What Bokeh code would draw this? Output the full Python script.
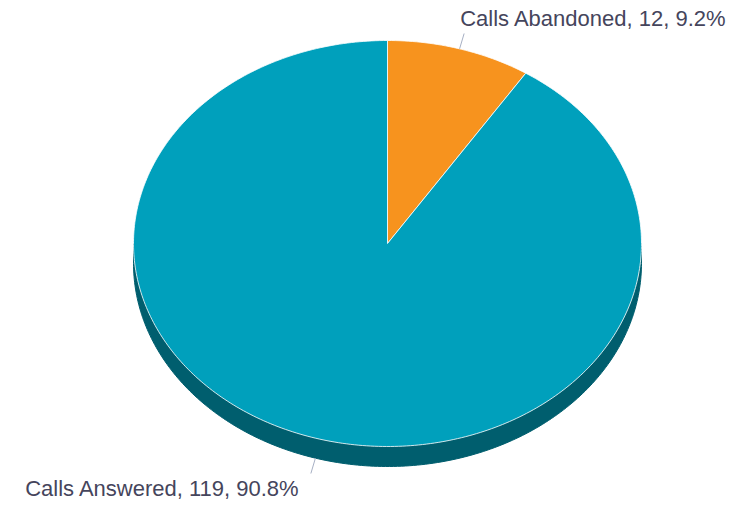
import numpy as np
from bokeh.plotting import figure
from bokeh.models import Range1d, ColumnDataSource
from bokeh.core.properties import value
from bokeh.embed import file_html
from bokeh.resources import INLINE

# ---- data ----
labels = ["Calls Abandoned", "Calls Answered"]
values = [12, 119]
colors = ["#f7931e", "#00a0bc"]
side_color = "#005e6e"

# ---- geometry (screen-like coords) ----
cx, cy = 387.0, 243.0
rx, ry = 254.0, 203.0
depth = 20.0

W, H = 735, 505
p = figure(width=W, height=H, output_backend="svg", toolbar_location=None,
           x_range=Range1d(0, W), y_range=Range1d(H, 0),
           min_border=0, outline_line_color=None)
p.axis.visible = False
p.grid.visible = False
p.background_fill_color = "white"

total = float(sum(values))
fracs = [v / total for v in values]

# side band (front half of the cylinder)
t = np.linspace(np.pi / 2, 3 * np.pi / 2, 200)  # angle clockwise from top
ex = cx + rx * np.sin(t)
ey = cy - ry * np.cos(t)
side_x = np.concatenate([ex, ex[::-1]])
side_y = np.concatenate([ey, ey[::-1] + depth])
p.patch(side_x, side_y, fill_color=side_color, line_color=side_color, line_width=1)

# top slices
xs, ys = [], []
start = 0.0
mids = []
for f in fracs:
    end = start + f * 2 * np.pi
    a = np.linspace(start, end, max(int(f * 400), 10))
    px = np.concatenate([[cx], cx + rx * np.sin(a), [cx]])
    py = np.concatenate([[cy], cy - ry * np.cos(a), [cy]])
    xs.append(px.tolist())
    ys.append(py.tolist())
    mids.append((start + end) / 2)
    start = end
p.patches(xs, ys, fill_color=colors, line_color="white", line_width=0.8)

# labels and connectors
tx, ty, txt, align = [], [], [], []
for lab, v, f, m in zip(labels, values, fracs, mids):
    sx = cx + rx * np.sin(m)
    sy = cy - ry * np.cos(m)
    if np.cos(m) < 0:
        sy += depth
    dx, dy = np.sin(m), -np.cos(m)
    exx, eyy = sx + 16 * dx, sy + 16 * dy
    p.line([sx, exx], [sy, eyy], line_color="#a7b0c4", line_width=1)
    if exx > cx:
        tx.append(exx - 4); align.append("left")
    else:
        tx.append(exx - 11); align.append("right")
    ty.append(eyy - 15 if dy < 0 else eyy + 15)
    txt.append(f"{lab}, {v}, {f*100:.1f}%")

src = ColumnDataSource(dict(x=tx, y=ty, text=txt, align=align))
p.text(x="x", y="y", text="text", source=src, text_align="align",
       text_baseline="middle", text_font=value("Liberation Sans"),
       text_font_size="22px", text_color="#45455c")

open("out.html", "w").write(file_html(p, INLINE))
